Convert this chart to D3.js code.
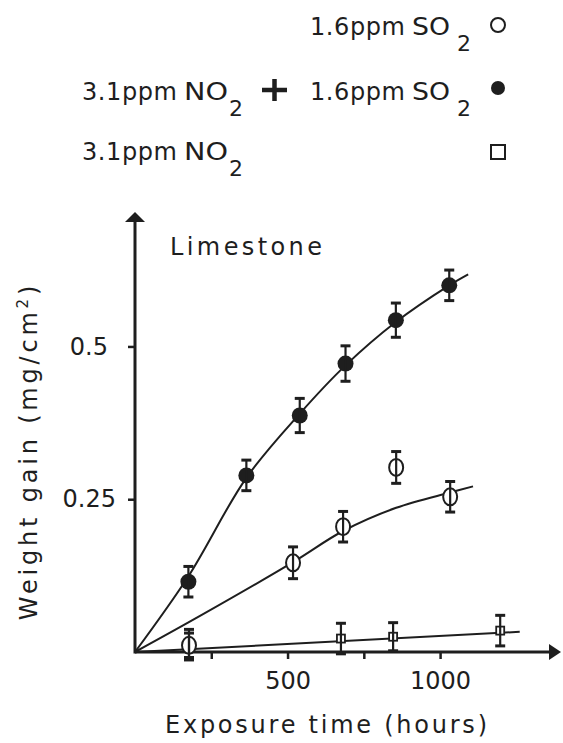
<!DOCTYPE html>
<html>
<head>
<meta charset="utf-8">
<script src="https://cdn.jsdelivr.net/npm/d3@7"></script>
<style>
  body { margin: 0; background: #fff; }
  text { font-family: "DejaVu Sans", sans-serif; fill: #1e1e1e; }
</style>
</head>
<body>
<script>
// measured points (time in hours, weight gain in mg/cm2, +/- error)
const timesBoth = [175, 365, 540, 690, 855, 1030];
const gainBoth = [0.115, 0.289, 0.387, 0.472, 0.543, 0.600];
const errBoth = [0.025, 0.025, 0.028, 0.029, 0.028, 0.025];

const timesSO2 = [177, 518, 682, 856, 1033];
const gainSO2 = [0.011, 0.146, 0.205, 0.302, 0.254];
const errSO2 = [0.02, 0.026, 0.025, 0.026, 0.025];

const timesNO2 = [177, 675, 846, 1197];
const gainNO2 = [0.012, 0.022, 0.025, 0.035];
const errNO2 = [0.025, 0.025, 0.023, 0.025];

// hand drawn trend curves
const fitTimesBoth = [0, 175, 365, 540, 690, 855, 1030, 1092];
const fitGainBoth = [0, 0.124, 0.285, 0.39, 0.469, 0.54, 0.6, 0.618];
const fitTimesSO2 = [0, 213, 518, 682, 856, 1033, 1108];
const fitGainSO2 = [0, 0.059, 0.147, 0.198, 0.236, 0.261, 0.271];
const fitTimesNO2 = [0, 1261];
const fitGainNO2 = [0, 0.033];

const xTicks = [250, 500, 750, 1000];
const xTickLabels = ['', '500', '', '1000'];
const yTicks = [0.25, 0.5];
const yTickLabels = ['0.25', '0.5'];

const ink = '#1e1e1e';
const width = 563, height = 743;

const svg = d3.select('body').append('svg')
  .attr('width', width)
  .attr('height', height);

svg.append('rect').attr('width', width).attr('height', height).attr('fill', '#fff');

const x = d3.scaleLinear().domain([0, 1393]).range([135, 560]);
const y = d3.scaleLinear().domain([0, 0.72]).range([652, 212]);

const zip = (ts, vs, es) => ts.map((t, i) => ({t: t, v: vs[i], e: es ? es[i] : 0}));

// axes
var xAxis = svg.append('g')
  .attr('transform', 'translate(0,' + y(0) + ')')
  .call(d3.axisBottom(x).tickValues(xTicks)
    .tickFormat((d, i) => xTickLabels[i]).tickSize(7).tickPadding(13));
var yAxis = svg.append('g')
  .attr('transform', 'translate(' + x(0) + ',0)')
  .call(d3.axisLeft(y).tickValues(yTicks)
    .tickFormat((d, i) => yTickLabels[i]).tickSize(7).tickPadding(12));

[xAxis, yAxis].forEach(g => {
  g.select('.domain').remove();
  g.selectAll('line').attr('stroke', ink).attr('stroke-width', 2.5);
  g.selectAll('text').attr('font-size', 24).attr('font-family', '"DejaVu Sans", sans-serif').attr('fill', ink);
});
// the 0.5 label sits a bit further from its tick
yAxis.selectAll('text').filter(d => d === 0.5).attr('dx', -8);

// axis lines with arrow heads
svg.append('line')
  .attr('x1', x(0)).attr('y1', y(0)).attr('x2', x(1393) - 8).attr('y2', y(0))
  .attr('stroke', ink).attr('stroke-width', 3);
svg.append('line')
  .attr('x1', x(0)).attr('y1', y(0) + 1.5).attr('x2', x(0)).attr('y2', y(0.72) + 8)
  .attr('stroke', ink).attr('stroke-width', 3);
svg.append('path')
  .attr('d', 'M' + (x(1393) + 1) + ',' + y(0) + 'l-12,-8l0,16z')
  .attr('fill', ink);
svg.append('path')
  .attr('d', 'M' + x(0) + ',' + y(0.72) + 'l-10,10l20,0z')
  .attr('fill', ink);

// trend curves
var line = d3.line().x(d => x(d.t)).y(d => y(d.v)).curve(d3.curveCatmullRom.alpha(0.5));
[[fitTimesBoth, fitGainBoth], [fitTimesSO2, fitGainSO2], [fitTimesNO2, fitGainNO2]].forEach(f => {
  svg.append('path')
    .datum(zip(f[0], f[1]))
    .attr('d', line)
    .attr('fill', 'none')
    .attr('stroke', ink)
    .attr('stroke-width', 2);
});

// markers
svg.append('g').selectAll('rect').data(zip(timesNO2, gainNO2, errNO2))
  .enter().append('rect')
  .attr('x', d => x(d.t) - 4).attr('y', d => y(d.v) - 4)
  .attr('width', 8).attr('height', 8)
  .attr('fill', '#fff').attr('stroke', ink).attr('stroke-width', 1.8);

svg.append('g').selectAll('ellipse').data(zip(timesSO2, gainSO2, errSO2))
  .enter().append('ellipse')
  .attr('cx', d => x(d.t)).attr('cy', d => y(d.v))
  .attr('rx', 7).attr('ry', 8.5)
  .attr('fill', '#fff').attr('stroke', ink).attr('stroke-width', 2);

svg.append('g').selectAll('circle').data(zip(timesBoth, gainBoth, errBoth))
  .enter().append('circle')
  .attr('cx', d => x(d.t)).attr('cy', d => y(d.v))
  .attr('r', 8)
  .attr('fill', ink);

// error bars
function errorBars(data) {
  var g = svg.append('g').attr('stroke', ink).attr('stroke-width', 2.2);
  data.forEach(d => {
    var cx = x(d.t), top = y(d.v + d.e), bot = y(d.v - d.e);
    g.append('line').attr('x1', cx).attr('x2', cx).attr('y1', top).attr('y2', bot);
    g.append('line').attr('x1', cx - 5).attr('x2', cx + 5).attr('y1', top).attr('y2', top).attr('stroke-width', 3);
    g.append('line').attr('x1', cx - 5).attr('x2', cx + 5).attr('y1', bot).attr('y2', bot).attr('stroke-width', 3);
  });
}
errorBars(zip(timesBoth, gainBoth, errBoth));
errorBars(zip(timesSO2, gainSO2, errSO2));
errorBars(zip(timesNO2, gainNO2, errNO2));

// labels
svg.append('text')
  .attr('x', 170).attr('y', 255)
  .attr('font-size', 24)
  .attr('textLength', 152).attr('lengthAdjust', 'spacing')
  .text('Limestone');

svg.append('text')
  .attr('x', 165).attr('y', 733)
  .attr('font-size', 24)
  .attr('textLength', 322).attr('lengthAdjust', 'spacing')
  .text('Exposure  time (hours)');

var yl = svg.append('text')
  .attr('transform', 'translate(37,451) rotate(-90)')
  .attr('text-anchor', 'middle')
  .attr('font-size', 24)
  .attr('letter-spacing', 3.8);
yl.append('tspan').text('Weight  gain (mg/cm');
yl.append('tspan').attr('font-size', 15).attr('dy', -9).text('2');
yl.append('tspan').attr('dy', 9).text(')');

// legend
function gasLabel(px, py, num, gas, sub) {
  svg.append('text').attr('x', px).attr('y', py).attr('font-size', 24)
    .attr('textLength', 95).attr('lengthAdjust', 'spacing').text(num);
  svg.append('text').attr('x', px + 102).attr('y', py).attr('font-size', 24)
    .attr('textLength', gas === 'SO' ? 38 : 44).attr('lengthAdjust', 'spacingAndGlyphs').text(gas);
  svg.append('text').attr('x', px + (gas === 'SO' ? 147 : 147)).attr('y', py + 16).attr('font-size', 22).text(sub);
}
gasLabel(310, 35, '1.6ppm', 'SO', '2');
gasLabel(82, 100, '3.1ppm', 'NO', '2');
gasLabel(310, 100, '1.6ppm', 'SO', '2');
gasLabel(82, 160, '3.1ppm', 'NO', '2');

svg.append('path')
  .attr('d', 'M262,90L287,90M274.5,79L274.5,101')
  .attr('stroke', ink).attr('stroke-width', 4.5);

svg.append('circle').attr('cx', 498).attr('cy', 25).attr('r', 7)
  .attr('fill', '#fff').attr('stroke', ink).attr('stroke-width', 2);
svg.append('circle').attr('cx', 498).attr('cy', 88).attr('r', 7)
  .attr('fill', ink);
svg.append('rect').attr('x', 491).attr('y', 145).attr('width', 14).attr('height', 14)
  .attr('fill', '#fff').attr('stroke', ink).attr('stroke-width', 2);
</script>
</body>
</html>
